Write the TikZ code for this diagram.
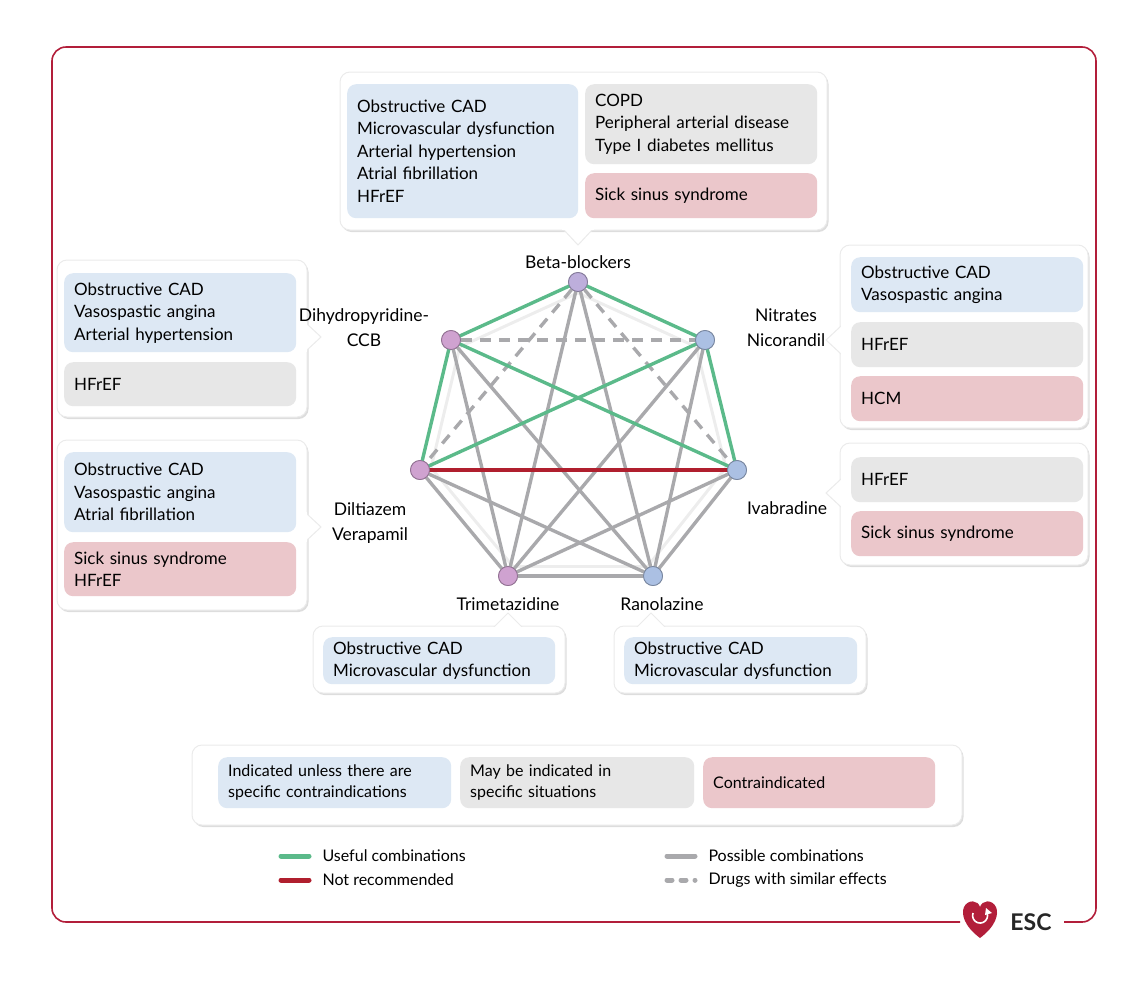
\documentclass[tikz,border=0pt]{standalone}
\usepackage{fontspec}
\setmainfont{Lato}
\usetikzlibrary{shadows,calc}
\definecolor{cblue}{HTML}{DDE8F4}
\definecolor{cgrey}{HTML}{E7E7E7}
\definecolor{cpink}{HTML}{EBC7CB}
\definecolor{lgreen}{HTML}{5BBA8A}
\definecolor{lred}{HTML}{B01F2E}
\definecolor{lgrey}{HTML}{A9A9AC}
\definecolor{frame}{HTML}{B21E3A}
\definecolor{npurp}{HTML}{BDAEDB}
\definecolor{npink}{HTML}{CFA2D0}
\definecolor{nblue}{HTML}{ABC0E3}
\begin{document}
\begin{tikzpicture}[x=1pt,y=-1pt,
  card/.style={fill=white,draw=black!8,line width=1pt,rounded corners=10pt,
     drop shadow={shadow xshift=1.5pt,shadow yshift=-2pt,opacity=0.22,fill=black!60}},
  ptr/.style={fill=white,draw=black!8,line width=1pt},
  box/.style={rounded corners=9pt,anchor=north west,inner xsep=10pt,align=left,
     font=\fontsize{17}{22.5}\selectfont},
  lab/.style={align=center,font=\fontsize{17.5}{25}\selectfont},
  dot/.style={circle,minimum size=19pt,inner sep=0pt,line width=0.8pt},
  e/.style={line width=3.4pt},
  faint/.style={line width=3pt,black!7},
  gr/.style={e,lgreen}, rd/.style={e,lred}, gy/.style={e,lgrey},
  ds/.style={e,lgrey,dash pattern=on 11pt off 8pt}]
\useasboundingbox (0,0) rectangle (1139,994);
% frame
\draw[frame,line width=1.6pt,rounded corners=14pt] (960,922) -- (52,922) -- (52,47) -- (1096,47) -- (1096,922) -- (1064,922);
% ESC logo
\fill[frame] (980,938) .. controls (964,926) and (961,914) .. (964,907) .. controls (968,899) and (978,900) .. (980,907) .. controls (982,900) and (992,899) .. (996,907) .. controls (999,914) and (996,926) .. (980,938) -- cycle;
\draw[white,line width=1.6pt] (973,913) arc (200:-20:7.5);
\fill[white] (986,908) -- (992,913) -- (985,915) -- cycle;
\node[font=\fontsize{23}{23}\selectfont\bfseries,text=black!85] (esc) at (1031,922) {ESC};
% cards
\draw[card] (340,72) rectangle (827,230);
\filldraw[ptr] (563,229) -- (578,245) -- (593,229);
\fill[white] (562,226) rectangle (594,229.5);
\draw[card] (57,260) rectangle (307,417);
\filldraw[ptr] (306,323) -- (321,337) -- (306,351);
\fill[white] (303,322) rectangle (306.5,352);
\draw[card] (57,440) rectangle (307,610);
\filldraw[ptr] (306,513) -- (321,527) -- (306,541);
\fill[white] (303,512) rectangle (306.5,542);
\draw[card] (840,245) rectangle (1088,428);
\filldraw[ptr] (841,326) -- (826,340) -- (841,354);
\fill[white] (840.5,325) rectangle (844,355);
\draw[card] (840,443) rectangle (1088,565);
\filldraw[ptr] (841,479) -- (826,493) -- (841,507);
\fill[white] (840.5,478) rectangle (844,508);
\draw[card] (313,626) rectangle (565,693);
\filldraw[ptr] (494,627) -- (508,613) -- (522,627);
\fill[white] (493,627) rectangle (523,630);
\draw[card] (614,626) rectangle (866,693);
\filldraw[ptr] (637,627) -- (651,613) -- (665,627);
\fill[white] (636,627) rectangle (666,630);
\draw[card] (192,745) rectangle (962,825);
% inner boxes
\node[box,fill=cblue,text width=211pt,minimum height=134pt] (b1) at (347,84) {Obstructive CAD\\Microvascular dysfunction\\Arterial hypertension\\Atrial fibrillation\\HFrEF};
\node[box,fill=cgrey,text width=212pt,minimum height=80pt] (b2) at (585,84) {COPD\\Peripheral arterial disease\\Type I diabetes mellitus};
\node[box,fill=cpink,text width=212pt,minimum height=45pt] (b3) at (585,173) {Sick sinus syndrome};
\node[box,fill=cblue,text width=212pt,minimum height=79pt] (b4) at (64,273) {Obstructive CAD\\Vasospastic angina\\Arterial hypertension};
\node[box,fill=cgrey,text width=212pt,minimum height=44pt] (b5) at (64,362) {HFrEF};
\node[box,fill=cblue,text width=212pt,minimum height=80pt] (b6) at (64,452) {Obstructive CAD\\Vasospastic angina\\Atrial fibrillation};
\node[box,fill=cpink,text width=212pt,minimum height=54pt] (b7) at (64,542) {Sick sinus syndrome\\HFrEF};
\node[box,fill=cblue,text width=212pt,minimum height=55pt] (b8) at (851,257) {Obstructive CAD\\Vasospastic angina};
\node[box,fill=cgrey,text width=212pt,minimum height=45pt] (b9) at (851,322) {HFrEF};
\node[box,fill=cpink,text width=212pt,minimum height=45pt] (b10) at (851,376) {HCM};
\node[box,fill=cgrey,text width=212pt,minimum height=45pt] (b11) at (851,457) {HFrEF};
\node[box,fill=cpink,text width=212pt,minimum height=45pt] (b12) at (851,511) {Sick sinus syndrome};
\node[box,fill=cblue,text width=212pt,minimum height=47pt] (b13) at (323,637) {Obstructive CAD\\Microvascular dysfunction};
\node[box,fill=cblue,text width=213pt,minimum height=47pt] (b14) at (624,637) {Obstructive CAD\\Microvascular dysfunction};
\node[box,fill=cblue,text width=213pt,minimum height=51pt,font=\fontsize{16}{21}\selectfont] (l1) at (218,757) {Indicated unless there are\\specific contraindications};
\node[box,fill=cgrey,text width=214pt,minimum height=51pt,font=\fontsize{16}{21}\selectfont] (l2) at (460,757) {May be indicated in\\specific situations};
\node[box,fill=cpink,text width=212pt,minimum height=51pt,font=\fontsize{16}{21}\selectfont] (l3) at (703,757) {Contraindicated};
% drug nodes
\coordinate (ctr) at (578,437);
\node[dot,fill=npurp,draw=npurp!70!black] (BB) at (578,282) {};
\node[dot,fill=nblue,draw=nblue!70!black] (NI) at (705,340) {};
\node[dot,fill=nblue,draw=nblue!70!black] (IV) at (737,470) {};
\node[dot,fill=nblue,draw=nblue!70!black] (RA) at (653,576) {};
\node[dot,fill=npink,draw=npink!70!black] (TR) at (508,576) {};
\node[dot,fill=npink,draw=npink!70!black] (DI) at (420,470) {};
\node[dot,fill=npink,draw=npink!70!black] (DH) at (451,340) {};
% edges
\foreach \a/\b in {BB/NI,NI/IV,IV/RA,RA/TR,TR/DI,DI/DH,DH/BB}
  \draw[faint] ($(\a.center)!0.07!(ctr)$) -- ($(\b.center)!0.07!(ctr)$);
\foreach \a/\b in {BB/TR,BB/RA,DH/TR,DH/RA,NI/TR,NI/RA,DI/TR,DI/RA,IV/TR,IV/RA,TR/RA}
  \draw[gy] (\a.center) -- (\b.center);
\foreach \a/\b in {BB/DI,BB/IV,DH/NI}
  \draw[ds] (\a) -- (\b);
\foreach \a/\b in {BB/DH,BB/NI,DH/DI,DH/IV,DI/NI,NI/IV}
  \draw[gr] (\a.center) -- (\b.center);
\draw[rd] (DI.center) -- (IV.center);
\foreach \n/\c in {BB/npurp,NI/nblue,IV/nblue,RA/nblue,TR/npink,DI/npink,DH/npink}
  \node[dot,fill=\c,draw=\c!70!black] at (\n) {};
% labels
\node[lab] (tBB) at (578,262) {Beta-blockers};
\node[lab] (tDH) at (364,328) {Dihydropyridine-\\CCB};
\node[lab] (tDI) at (370,523) {Diltiazem\\Verapamil};
\node[lab] (tNI) at (786,328) {Nitrates\\Nicorandil};
\node[lab] (tIV) at (787,508) {Ivabradine};
\node[lab] (tTR) at (508,604) {Trimetazidine};
\node[lab] (tRA) at (662,604) {Ranolazine};
% legend
\coordinate (g1) at (281,856); \coordinate (g2) at (309,856);
\coordinate (r1) at (281,880); \coordinate (r2) at (309,880);
\coordinate (p1) at (667,856); \coordinate (p2) at (695,856);
\coordinate (d1) at (667,880); \coordinate (d2) at (695,880);
\draw[lgreen,line width=5pt,line cap=round] (g1) -- (g2);
\draw[lred,line width=5pt,line cap=round] (r1) -- (r2);
\draw[lgrey,line width=5pt,line cap=round] (p1) -- (p2);
\draw[lgrey,line width=5pt,line cap=round,dash pattern=on 5pt off 9pt] (d1) -- (d2);
\node[anchor=west,font=\fontsize{16}{18}\selectfont] (tg) at (319,856) {Useful combinations};
\node[anchor=west,font=\fontsize{16}{18}\selectfont] (tr) at (319,880) {Not recommended};
\node[anchor=west,font=\fontsize{16}{18}\selectfont] (tp) at (705,856) {Possible combinations};
\node[anchor=west,font=\fontsize{16}{18}\selectfont] (td) at (705,880) {Drugs with similar effects};
\end{tikzpicture}
\end{document}
